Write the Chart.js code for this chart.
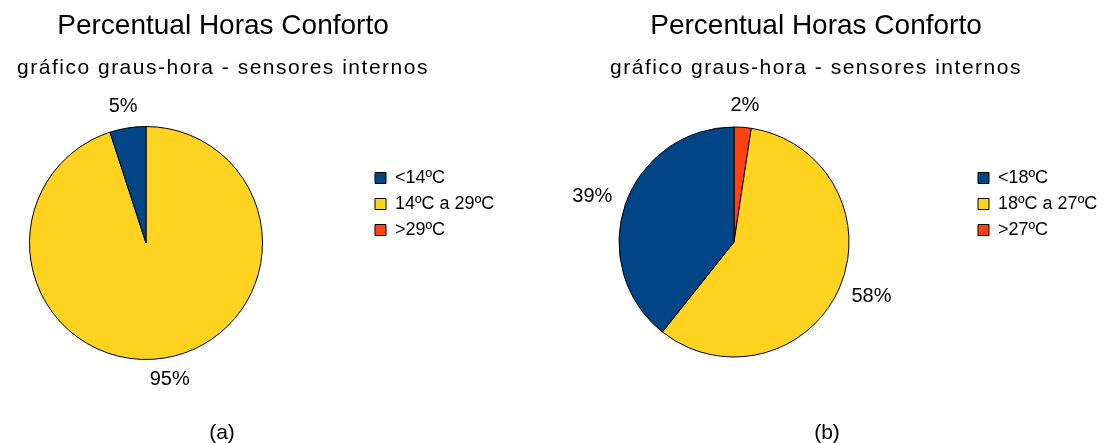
<!DOCTYPE html>
<html><head><meta charset="utf-8">
<script src="https://cdn.jsdelivr.net/npm/chart.js@4.4.1/dist/chart.umd.min.js"></script>
<style>
html,body{margin:0;padding:0;background:#fff;width:1107px;height:443px;overflow:hidden;position:relative;font-family:'Liberation Sans',Arial,sans-serif;}
.wrap{position:absolute;top:0;height:443px;}
.cap{position:absolute;top:420px;width:100px;text-align:center;font-size:21px;line-height:24px;color:#000;}
</style></head><body>
<div class="wrap" style="left:0;width:553px"><canvas id="c1"></canvas></div>
<div class="wrap" style="left:553px;width:554px"><canvas id="c2"></canvas></div>
<div class="cap" style="left:172px">(a)</div>
<div class="cap" style="left:777px">(b)</div>
<script>
const titleText = 'Percentual Horas Conforto';
const subtitleText = 'gráfico graus-hora - sensores internos';
const categoriesA = ['<14ºC', '14ºC a 29ºC', '>29ºC'];
const valuesA = [5, 95, 0];
const categoriesB = ['<18ºC', '18ºC a 27ºC', '>27ºC'];
const valuesB = [39.3, 58.3, 2.4];
const sliceColors = ['#004586', '#FFD320', '#FF420E'];

const FONT = "'Liberation Sans', Arial, sans-serif";
Chart.defaults.font.family = FONT;
Chart.defaults.color = '#000';

const pctLabels = {
  id: 'pctLabels',
  afterDatasetsDraw(chart) {
    const ctx = chart.ctx;
    const meta = chart.getDatasetMeta(0);
    const data = chart.data.datasets[0].data;
    ctx.save();
    ctx.font = "20px " + FONT;
    ctx.fillStyle = '#000';
    ctx.textAlign = 'center';
    ctx.textBaseline = 'middle';
    meta.data.forEach((arc, i) => {
      const v = data[i];
      if (!v) return;
      const p = arc.getProps(['x','y','startAngle','endAngle','outerRadius'], true);
      const a = (p.startAngle + p.endAngle) / 2;
      const dx = Math.cos(a), dy = Math.sin(a);
      const txt = Math.round(v) + '%';
      const w = ctx.measureText(txt).width, h = 14;
      const d = p.outerRadius + 15;
      ctx.fillText(txt, p.x + dx * d + dx * w / 2, p.y + dy * d + dy * h / 2);
    });
    ctx.restore();
  }
};

function fixedLayout(area, legendPos) {
  return {
    id: 'fixedLayout',
    afterLayout(chart) {
      chart.chartArea = {
        left: area.left, top: area.top, right: area.right, bottom: area.bottom,
        width: area.right - area.left, height: area.bottom - area.top
      };
      const lg = chart.legend;
      if (lg) {
        const w = lg.width, h = lg.height;
        lg.left = legendPos.x; lg.top = legendPos.y;
        lg.right = lg.left + w; lg.bottom = lg.top + h;
      }
      // widen the subtitle letter spacing like the original
      chart.boxes.forEach(b => {
        if (b !== chart.titleBlock && b.options && b.options.text === subtitleText && !b._spaced) {
          b._spaced = true;
          const orig = b.draw;
          b.draw = function () {
            const c = chart.ctx;
            c.save();
            c.letterSpacing = '1.5px';
            orig.apply(this, arguments);
            c.restore();
          };
        }
      });
    }
  };
}

function makePie(id, categories, values, padRight, area, legendPos) {
  const labels = categories.slice().reverse();
  const data = values.slice().reverse();
  const colors = sliceColors.slice().reverse();
  return new Chart(document.getElementById(id), {
    type: 'pie',
    data: {
      labels: labels,
      datasets: [{
        data: data,
        backgroundColor: colors,
        borderColor: '#000',
        borderWidth: 1
      }]
    },
    options: {
      responsive: true,
      maintainAspectRatio: false,
      animation: false,
      layout: { padding: { left: 0, right: padRight, top: 0, bottom: 0 } },
      plugins: {
        title: { display: true, text: titleText, color: '#000',
          font: { size: 28, weight: 'normal' }, padding: { top: 9, bottom: 0 } },
        subtitle: { display: true, text: subtitleText, color: '#000',
          font: { size: 21, weight: 'normal' }, padding: { top: 13, bottom: 0 } },
        legend: {
          display: true, position: 'right', align: 'start', reverse: true,
          labels: { boxWidth: 11, boxHeight: 11, padding: 8, color: '#000', font: { size: 18 } }
        },
        tooltip: { enabled: false }
      }
    },
    plugins: [pctLabels, fixedLayout(area, legendPos)]
  });
}

makePie('c1', categoriesA, valuesA, 107,
  { left: 29, top: 126, right: 263, bottom: 360 }, { x: 367, y: 161 });
makePie('c2', categoriesB, valuesB, 28,
  { left: 65.5, top: 126.5, right: 296.5, bottom: 357.5 }, { x: 417, y: 161 });
</script>
</body></html>
